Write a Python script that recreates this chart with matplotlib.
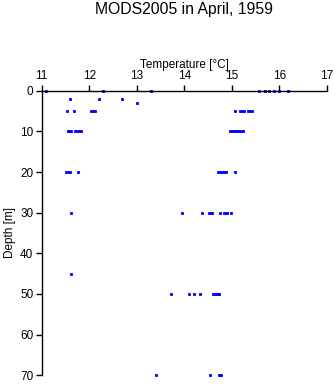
import matplotlib
matplotlib.use("Agg")
import matplotlib.pyplot as plt

# temperature readings (deg C) grouped by depth level (m)
t_0 = [11.10, 12.30, 13.30, 15.58, 15.70, 15.79, 15.89, 15.99, 16.19]
t_2 = [11.60, 12.21, 12.70]
t_3 = [13.00]
t_5 = [11.53, 11.67, 12.03, 12.07, 12.12, 15.07, 15.17, 15.21, 15.26, 15.34, 15.38, 15.42]
t_10 = [11.55, 11.58, 11.62, 11.71, 11.74, 11.78, 11.82,
        14.96, 15.00, 15.04, 15.08, 15.12, 15.16, 15.20, 15.24]
t_20 = [11.52, 11.56, 11.59, 11.76, 14.71, 14.75, 14.79, 14.83, 14.87, 15.07]
t_30 = [11.62, 13.96, 14.37, 14.52, 14.56, 14.59, 14.75, 14.83, 14.87, 14.90, 14.99]
t_45 = [11.62]
t_50 = [13.73, 14.10, 14.21, 14.34, 14.61, 14.64, 14.68, 14.71, 14.74]
t_70 = [13.41, 14.54, 14.73, 14.78]

levels = {0: t_0, 2: t_2, 3: t_3, 5: t_5, 10: t_10, 20: t_20,
          30: t_30, 45: t_45, 50: t_50, 70: t_70}

temps = []
depths = []
for d, ts in levels.items():
    temps += ts
    depths += [d] * len(ts)

xticks = [11, 12, 13, 14, 15, 16, 17]
yticks = [0, 10, 20, 30, 40, 50, 60, 70]

plt.rcParams['font.family'] = ['Liberation Sans', 'DejaVu Sans']

fig = plt.figure(figsize=(3.35, 3.84), dpi=100, facecolor='white')
ax = fig.add_axes([0.1245, 0.0227, 0.851, 0.7411])

ax.plot(temps, depths, linestyle='none', marker='s', markersize=1.8,
        color='#0000ff', markeredgewidth=0.6, clip_on=False)

ax.set_xlim(11, 17)
ax.set_ylim(70, 0)
ax.set_xticks(xticks)
ax.set_yticks(yticks)

ax.xaxis.tick_top()
ax.xaxis.set_label_position('top')
ax.spines['right'].set_visible(False)
ax.spines['bottom'].set_visible(False)
for s in ['left', 'top']:
    ax.spines[s].set_linewidth(1.0)
ax.tick_params(direction='out', length=4, width=1.0, labelsize=8.5, pad=2)

ax.set_xlabel('Temperature [°C]', fontsize=8.5, labelpad=2)
ax.set_ylabel('Depth [m]', fontsize=8.5, labelpad=3)
fig.text(0.548, 0.975, 'MODS2005 in April, 1959', ha='center', va='center', fontsize=11.3)

fig.savefig('out.png', dpi=100, facecolor='white')
